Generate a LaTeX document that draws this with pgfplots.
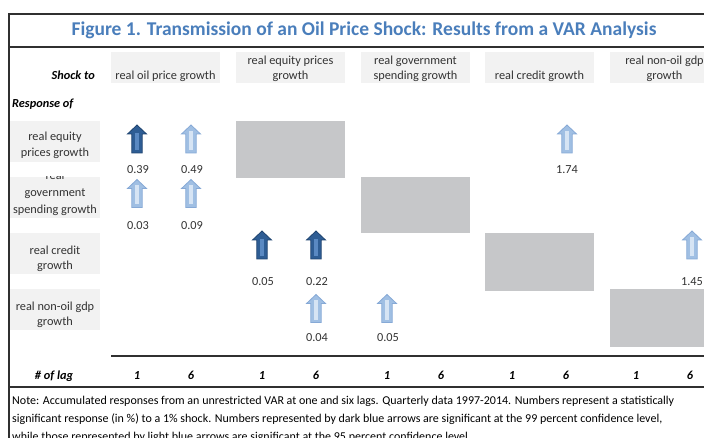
\documentclass[border=0pt]{standalone}
\usepackage{fontspec}
\setmainfont{Carlito}
\usepackage{pgfplots}
\pgfplotsset{compat=1.18}
\definecolor{titleblue}{HTML}{4A7EBB}
\definecolor{boxgray}{HTML}{F2F2F2}
\definecolor{blockgray}{HTML}{C6C7C9}
\definecolor{arrD}{HTML}{2E5D94}
\definecolor{arrDline}{HTML}{1F4470}
\definecolor{arrDin}{HTML}{5A89C2}
\definecolor{arrL}{HTML}{A0BFE3}
\definecolor{arrLline}{HTML}{86A9D6}
\definecolor{arrLin}{HTML}{D6E4F4}
\definecolor{txt}{HTML}{333333}
\definecolor{rule}{HTML}{303030}
\newcommand{\arrowpath}{%
 \pgfpathmoveto{\pgfpoint{0pt}{14pt}}%
 \pgfpathlineto{\pgfpoint{9.5pt}{5pt}}%
 \pgfpathlineto{\pgfpoint{5.2pt}{5pt}}%
 \pgfpathlineto{\pgfpoint{5.2pt}{-14pt}}%
 \pgfpathlineto{\pgfpoint{-5.2pt}{-14pt}}%
 \pgfpathlineto{\pgfpoint{-5.2pt}{5pt}}%
 \pgfpathlineto{\pgfpoint{-9.5pt}{5pt}}%
 \pgfpathclose}
\pgfdeclareplotmark{darkarrow}{%
 \arrowpath
 \pgfsetfillcolor{arrD}\pgfsetstrokecolor{arrDline}\pgfsetlinewidth{0.8pt}%
 \pgfusepathqfillstroke
 \pgfpathrectanglecorners{\pgfpoint{-1.6pt}{-11pt}}{\pgfpoint{1.6pt}{6pt}}%
 \pgfsetfillcolor{arrDin}\pgfusepathqfill}
\pgfdeclareplotmark{lightarrow}{%
 \arrowpath
 \pgfsetfillcolor{arrL}\pgfsetstrokecolor{arrLline}\pgfsetlinewidth{0.8pt}%
 \pgfusepathqfillstroke
 \pgfpathrectanglecorners{\pgfpoint{-1.6pt}{-11pt}}{\pgfpoint{1.6pt}{8pt}}%
 \pgfsetfillcolor{arrLin}\pgfusepathqfill}
\newcommand{\bodyfont}{\fontsize{12.3}{15}\selectfont}
\tikzset{lagnum/.style={anchor=base, inner sep=0pt, font=\bodyfont\bfseries\itshape, text=black},
  lbl/.style={anchor=base, inner sep=0pt, font=\bodyfont, text=txt},
  note/.style={anchor=base west, inner sep=0pt, font=\fontsize{12.0}{15}\selectfont, text=black}}
\begin{document}
\begin{tikzpicture}
\begin{axis}[width=704pt, height=438pt, scale only axis,
  xmin=0, xmax=704, ymin=0, ymax=438, y dir=reverse,
  axis lines=none, clip=false, at={(0,0)}, anchor=south west]
% header boxes
\addplot[fill=boxgray, draw=none] coordinates {(111,52) (220,52) (220,83) (111,83)} -- cycle;
\addplot[fill=boxgray, draw=none] coordinates {(236,52) (345,52) (345,83) (236,83)} -- cycle;
\addplot[fill=boxgray, draw=none] coordinates {(361,52) (470,52) (470,83) (361,83)} -- cycle;
\addplot[fill=boxgray, draw=none] coordinates {(485,52) (594,52) (594,83) (485,83)} -- cycle;
\addplot[fill=boxgray, draw=none] coordinates {(610,52) (719,52) (719,83) (610,83)} -- cycle;
% row label boxes
\addplot[fill=boxgray, draw=none] coordinates {(10,121) (100,121) (100,162) (10,162)} -- cycle;
\addplot[fill=boxgray, draw=none] coordinates {(10,177) (100,177) (100,218) (10,218)} -- cycle;
\addplot[fill=boxgray, draw=none] coordinates {(10,233) (100,233) (100,274) (10,274)} -- cycle;
\addplot[fill=boxgray, draw=none] coordinates {(10,289) (100,289) (100,330) (10,330)} -- cycle;
% diagonal gray blocks
\addplot[fill=blockgray, draw=none] coordinates {(236,121) (345,121) (345,178) (236,178)} -- cycle;
\addplot[fill=blockgray, draw=none] coordinates {(361,177) (470,177) (470,233) (361,233)} -- cycle;
\addplot[fill=blockgray, draw=none] coordinates {(485,233) (594,233) (594,291) (485,291)} -- cycle;
\addplot[fill=blockgray, draw=none] coordinates {(610,289) (719,289) (719,347) (610,347)} -- cycle;
% rules
\addplot[rule, line width=1.4pt] coordinates {(9,14) (710,14)};
\addplot[rule, line width=1.4pt] coordinates {(9,13.3) (9,445)};
\addplot[rule, line width=1.4pt] coordinates {(9,47) (710,47)};
\addplot[rule, line width=1.3pt] coordinates {(111,356) (710,356)};
\addplot[rule, line width=1.3pt] coordinates {(9,387) (710,387)};
% arrows
\addplot[only marks, mark=darkarrow] coordinates {(137,139) (262,245) (316,245)};
\addplot[only marks, mark=lightarrow] coordinates {(191,139) (567,139) (137,193.5) (191,193.5) (692,245) (316,308.5) (387,308.5)};
% values
\addplot[draw=none, mark=none, nodes near coords, point meta=explicit symbolic,
  every node near coord/.style={anchor=center, inner sep=0pt, font=\bodyfont, text=txt}]
  table[meta=label] {
x y label
138 170 0.39
192 170 0.49
567 170 1.74
138 226 0.03
192 226 0.09
263 282 0.05
317 282 0.22
692 282 1.45
317 338 0.04
388 338 0.05
};
% title
\node[anchor=base, inner sep=0pt, font=\fontsize{19.5}{23}\selectfont\bfseries, text=titleblue] at (axis cs:364,35.5) {Figure 1. Transmission of an Oil Price Shock: Results from a VAR Analysis};
% header texts
\node[anchor=base east, inner sep=0pt, font=\bodyfont\bfseries\itshape, text=black] at (axis cs:95,80) {Shock to};
\node[lbl] at (axis cs:165.5,80) {real oil price growth};
\node[lbl] at (axis cs:290.5,64.5) {real equity prices};
\node[lbl] at (axis cs:290.5,79.5) {growth};
\node[lbl] at (axis cs:415.5,64.5) {real government};
\node[lbl] at (axis cs:415.5,79.5) {spending growth};
\node[lbl] at (axis cs:539.5,80) {real credit growth};
\node[lbl] at (axis cs:664.5,64.5) {real non-oil gdp};
\node[lbl] at (axis cs:664.5,79.5) {growth};
\node[anchor=base west, inner sep=0pt, font=\bodyfont\bfseries\itshape, text=black] at (axis cs:12,108) {Response of};
% row labels
\node[lbl] at (axis cs:55,141) {real equity};
\node[lbl] at (axis cs:55,157) {prices growth};
\begin{scope}
\clip (axis cs:10,177) rectangle (axis cs:100,218);
\node[lbl] at (axis cs:55,180) {real};
\end{scope}
\node[lbl] at (axis cs:55,197) {government};
\node[lbl] at (axis cs:55,214) {spending growth};
\node[lbl] at (axis cs:55,255) {real credit};
\node[lbl] at (axis cs:55,270) {growth};
\node[lbl] at (axis cs:55,310) {real non-oil gdp};
\node[lbl] at (axis cs:55,326) {growth};
% lag row
\node[lagnum] at (axis cs:54,379) {\# of lag};
\node[lagnum] at (axis cs:137,379) {1};
\node[lagnum] at (axis cs:191,379) {6};
\node[lagnum] at (axis cs:262,379) {1};
\node[lagnum] at (axis cs:316,379) {6};
\node[lagnum] at (axis cs:387,379) {1};
\node[lagnum] at (axis cs:441,379) {6};
\node[lagnum] at (axis cs:512,379) {1};
\node[lagnum] at (axis cs:566,379) {6};
\node[lagnum] at (axis cs:636,379) {1};
\node[lagnum] at (axis cs:690,379) {6};
% note
\node[note] at (axis cs:12,404) {Note: Accumulated responses from an unrestricted VAR at one and six lags. Quarterly data 1997-2014. Numbers represent a statistically};
\node[note] at (axis cs:12,422) {significant response (in \%) to a 1\% shock. Numbers represented by dark blue arrows are significant at the 99 percent confidence level,};
\node[note] at (axis cs:12,440) {while those represented by light blue arrows are significant at the 95 percent confidence level.};
\end{axis}
\pgfresetboundingbox
\useasboundingbox (0,0) rectangle (704pt,438pt);
\end{tikzpicture}
\end{document}
